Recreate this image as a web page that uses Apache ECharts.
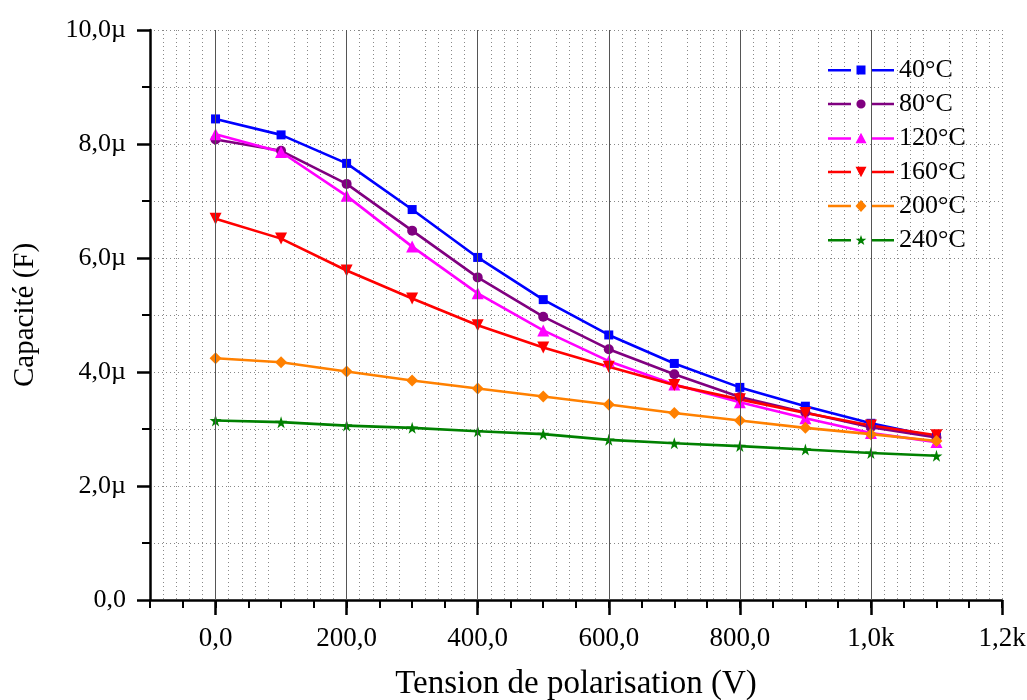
<!DOCTYPE html>
<html><head><meta charset="utf-8">
<script src="https://cdn.jsdelivr.net/npm/echarts@6/dist/echarts.min.js"></script>
<style>html,body{margin:0;padding:0;background:#fff}#c{width:1027px;height:700px}</style>
</head><body><div id="c"></div>
<script>
const voltages = [0,100,200,300,400,500,600,700,800,900,1000,1100];
const seriesNames = ['40°C','80°C','120°C','160°C','200°C','240°C'];
const c40  = [8.44,8.16,7.66,6.85,6.01,5.27,4.65,4.15,3.73,3.40,3.10,2.86];
const c80  = [8.08,7.88,7.30,6.48,5.66,4.97,4.40,3.96,3.56,3.29,3.03,2.85];
const c120 = [8.17,7.86,7.09,6.20,5.38,4.73,4.19,3.78,3.47,3.19,2.93,2.77];
const c160 = [6.69,6.34,5.78,5.29,4.82,4.43,4.09,3.77,3.52,3.28,3.06,2.89];
const c200 = [4.24,4.17,4.01,3.85,3.71,3.57,3.43,3.28,3.15,3.02,2.91,2.79];
const c240 = [3.15,3.12,3.06,3.02,2.96,2.91,2.81,2.75,2.70,2.64,2.58,2.53];
const xTickValues = [0,200,400,600,800,1000,1200];
const xTickLabels = ['0,0','200,0','400,0','600,0','800,0','1,0k','1,2k'];
const yTickValues = [0,2,4,6,8,10];
const yTickLabels = ['0,0','2,0µ','4,0µ','6,0µ','8,0µ','10,0µ'];
const majorGridX = [0,200,400,600,800,1000];

const colors = ['#0000FF','#800080','#FF00FF','#FF0000','#FF8000','#008000'];
const STAR = 'M50,0 L61,35 L98,35 L68,57 L79,91 L50,70 L21,91 L32,57 L2,35 L39,35 Z';
const symbols = ['rect','circle','triangle','path://M0,0 L10,0 L5,9 Z','diamond','path://'+STAR];
const sizes = [9,10,12,12,12,12];
const allData = [c40,c80,c120,c160,c200,c240];
const FONT = 'Liberation Serif';

function starPath(cx,cy,r){
  const pts=[];
  for(let k=0;k<10;k++){
    const a=-Math.PI/2+k*Math.PI/5, rr=(k%2===0)?r:r*0.4;
    pts.push((cx+rr*Math.cos(a)).toFixed(2)+','+(cy+rr*Math.sin(a)).toFixed(2));
  }
  return 'M'+pts.join(' L')+' Z';
}
function circlePath(cx,cy,r){
  return `M${cx-r},${cy} A${r},${r} 0 1,0 ${cx+r},${cy} A${r},${r} 0 1,0 ${cx-r},${cy} Z`;
}
const lines = 'M0,6 L23,6 L23,8.5 L0,8.5 Z M43,6 L66,6 L66,8.5 L43,8.5 Z ';
const markerPaths = [
  'M28.5,2.5 L37.5,2.5 L37.5,11.5 L28.5,11.5 Z',
  circlePath(33,7.2,4.6),
  'M33,1.5 L38.5,12 L27.5,12 Z',
  'M27.5,2 L38.5,2 L33,12.5 Z',
  'M33,1.3 L38.5,7.2 L33,13.1 L27.5,7.2 Z',
  starPath(33,7.6,5.6)
];
const legendData = seriesNames.map((n,i)=>({name:n, icon:'path://'+lines+markerPaths[i]}));

const series = allData.map((arr,i)=>({
  name: seriesNames[i], type:'line', z: 3,
  data: voltages.map((v,j)=>[v,arr[j]]),
  symbol: symbols[i], symbolSize: sizes[i], showSymbol:true,
  itemStyle:{color:colors[i]},
  lineStyle:{color:colors[i], width:2.6},
  emphasis:{disabled:true}
}));
series.push({
  type:'line', data:[], z:1, silent:true,
  markLine:{silent:true, symbol:['none','none'], label:{show:false},
    lineStyle:{type:'solid', color:'#555', width:1},
    data: majorGridX.map(v=>({xAxis:v}))}
});

const chart = echarts.init(document.getElementById('c'), null, {renderer:'canvas'});
chart.setOption({
  animation:false,
  backgroundColor:'#fff',
  grid:{left:150, right:25, top:30, bottom:100, containLabel:false, outerBoundsMode:'none'},
  legend:{
    data: legendData, orient:'vertical', left:823, top:52,
    itemWidth:66, itemHeight:14, itemGap:8,
    textStyle:{fontFamily:FONT, fontSize:26, color:'#000', padding:[0,0,0,0]}
  },
  xAxis:[{
    type:'value', min:-100, max:1200, interval:100, position:'bottom',
    name:'Tension de polarisation (V)', nameLocation:'middle', nameGap:68,
    nameTextStyle:{fontFamily:FONT, fontSize:33, color:'#000'},
    axisLine:{show:true, onZero:false, lineStyle:{color:'#000', width:2.5}},
    axisTick:{show:true, inside:false, length:15, customValues:xTickValues, lineStyle:{color:'#000', width:2.5}},
    minorTick:{show:false},
    splitLine:{show:true, lineStyle:{type:[1,3], color:'#888', width:1}},
    minorSplitLine:{show:true, lineStyle:{type:[1,3], color:'#888', width:1}},
    axisLabel:{fontFamily:FONT, fontSize:27, color:'#000', margin:25,
      formatter:v=>{const k=xTickValues.indexOf(v); return k>=0?xTickLabels[k]:'';}}
  },{
    type:'value', min:-100, max:1200, interval:100, position:'top', offset:-570,
    axisLine:{show:false, onZero:false}, splitLine:{show:false}, axisLabel:{show:false},
    axisTick:{show:true, inside:true, length:8, lineStyle:{color:'#000', width:2}},
    minorTick:{show:true, splitNumber:2, length:8, lineStyle:{color:'#000', width:2}}
  }],
  yAxis:{
    type:'value', min:0, max:10, interval:2,
    name:'Capacité (F)', nameLocation:'middle', nameGap:110, nameRotate:90,
    nameTextStyle:{fontFamily:FONT, fontSize:29, color:'#000'},
    axisLine:{show:true, onZero:false, lineStyle:{color:'#000', width:2.5}},
    axisTick:{show:true, inside:false, length:13, lineStyle:{color:'#000', width:2.5}},
    minorTick:{show:true, splitNumber:2, length:8, lineStyle:{color:'#000', width:2}},
    splitLine:{show:true, lineStyle:{type:[1,3], color:'#888', width:1}},
    minorSplitLine:{show:true, lineStyle:{type:[1,3], color:'#888', width:1}},
    axisLabel:{fontFamily:FONT, fontSize:26, color:'#000', margin:24,
      formatter:v=>{const k=yTickValues.indexOf(Math.round(v*1000)/1000); return k>=0?yTickLabels[k]:'';}}
  },
  series: series
});
</script>
</body></html>
